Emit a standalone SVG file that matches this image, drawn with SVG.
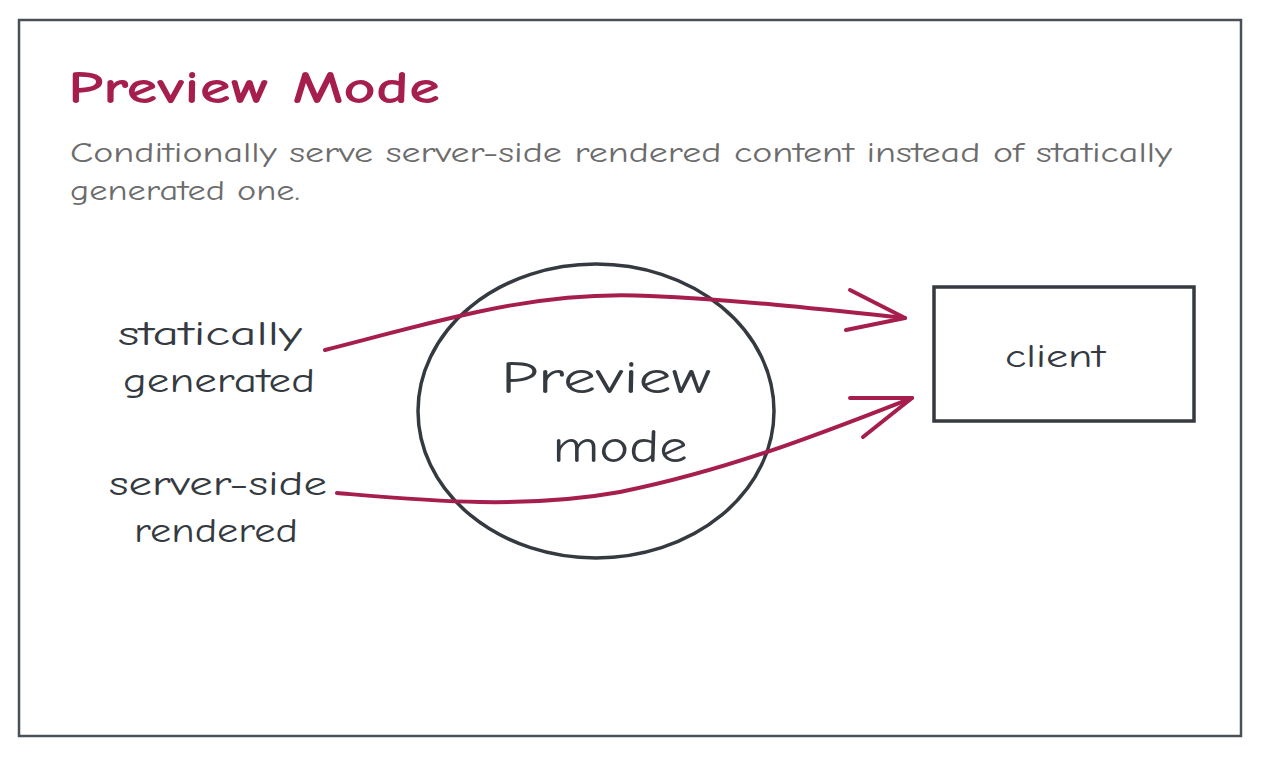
<svg xmlns="http://www.w3.org/2000/svg" width="1262" height="757" viewBox="0 0 1262 757">
<style>
.hand{font-family:"Comic Neue","Liberation Sans","DejaVu Sans",sans-serif}
.dark{fill:#343a40}
.node{fill:none;stroke:#343a40;stroke-width:3.5;stroke-linecap:round}
.edge{fill:none;stroke:#a61e4d;stroke-width:4;stroke-linecap:round;stroke-linejoin:round}
</style>
<rect width="1262" height="757" fill="#ffffff"/>
<g id="frame">
<rect x="19" y="20" width="1222" height="716" fill="none" stroke="#495057" stroke-width="2.5"/>
</g>
<g id="title">
<text class="hand" x="68" y="103" font-size="46" font-weight="bold" fill="#a61e4d" textLength="372" lengthAdjust="spacingAndGlyphs">Preview Mode</text>
<text class="hand" x="70" y="162" font-size="28" fill="#6c6c6c" textLength="1102" lengthAdjust="spacingAndGlyphs">Conditionally serve server-side rendered content instead of statically</text>
<text class="hand" x="70" y="200" font-size="28" fill="#6c6c6c" textLength="230" lengthAdjust="spacingAndGlyphs">generated one.</text>
</g>
<g id="preview-mode">
<ellipse class="node" cx="596" cy="411" rx="178" ry="147"/>
<text class="hand dark" text-anchor="middle" x="606" y="393" font-size="46" textLength="210" lengthAdjust="spacingAndGlyphs">Preview</text>
<text class="hand dark" text-anchor="middle" x="620" y="462" font-size="46" textLength="135" lengthAdjust="spacingAndGlyphs">mode</text>
</g>
<g id="client">
<rect class="node" x="934" y="287" width="260" height="134" stroke-width="3"/>
<text class="hand dark" text-anchor="middle" x="1055" y="367" font-size="32" textLength="100" lengthAdjust="spacingAndGlyphs">client</text>
</g>
<g id="static-label">
<text class="hand dark" text-anchor="middle" x="210" y="345" font-size="34" textLength="184" lengthAdjust="spacingAndGlyphs">statically</text>
<text class="hand dark" text-anchor="middle" x="219" y="392" font-size="34" textLength="192" lengthAdjust="spacingAndGlyphs">generated</text>
</g>
<g id="ssr-label">
<text class="hand dark" text-anchor="middle" x="218" y="495" font-size="34" textLength="218" lengthAdjust="spacingAndGlyphs">server-side</text>
<text class="hand dark" text-anchor="middle" x="216" y="542" font-size="34" textLength="164" lengthAdjust="spacingAndGlyphs">rendered</text>
</g>
<g id="connectors">
<path class="edge" d="M325 350 C 450 318, 540 290, 650 296 C 740 300, 830 310, 905 318"/>
<path class="edge" d="M850 290 L905 318 L846 330"/>
<path class="edge" d="M337 493 C 420 500, 520 510, 620 492 C 730 470, 830 430, 912 398"/>
<path class="edge" d="M850 398 L912 398 L863 437"/>
</g>
</svg>
